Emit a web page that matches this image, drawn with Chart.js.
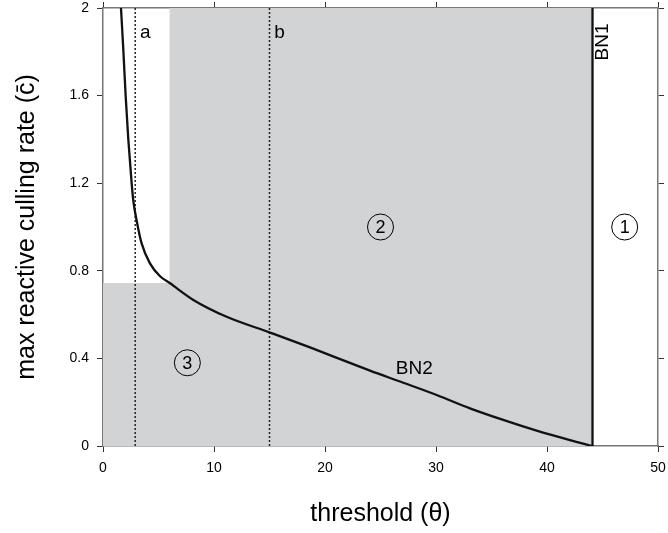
<!DOCTYPE html>
<html>
<head>
<meta charset="utf-8">
<script src="https://cdn.jsdelivr.net/npm/chart.js@4/dist/chart.umd.min.js"></script>
<style>
  html, body { margin: 0; padding: 0; background: #fff; }
  #wrap { width: 668px; height: 533px; position: relative; }
</style>
</head>
<body>
<div id="wrap"><canvas id="regionChart"></canvas></div>
<script>
// boundary BN2 (threshold vs max reactive culling rate)
const thetaBN2 = [1.62, 1.83, 2.04, 2.28, 2.58, 2.73, 3.03, 3.48, 4.23, 5.14, 6.04, 8.14, 11.14, 15.04, 18.65, 21.95, 24.05, 27.05, 30.06, 33.06, 36.06, 39.07, 42.07, 44.1];
const rateBN2 = [2.0, 1.81, 1.6, 1.4, 1.2, 1.12, 1.03, 0.925, 0.834, 0.775, 0.743, 0.667, 0.59, 0.518, 0.45, 0.385, 0.344, 0.289, 0.233, 0.172, 0.119, 0.07, 0.027, 0];

// boundary BN1 (vertical)
const thetaBN1 = [44.1, 44.1];
const rateBN1 = [0, 2];

// shaded region (regions 2 and 3)
const shadeTheta = [0, 6, 6, 44.1];
const shadeRate = [0.744, 0.744, 2, 2];

// reference thresholds a and b
const markNames = ['a', 'b'];
const markTheta = [2.9, 15];

// region markers
const regionNames = ['1', '2', '3'];
const regionTheta = [47, 25, 7.6];
const regionRate = [1.0, 1.0, 0.38];

// text labels
const labelText = ['a', 'b', 'BN2'];
const labelTheta = [3.8, 15.9, 28.05];
const labelRate = [1.886, 1.886, 0.352];
const bn1Label = { text: 'BN1', theta: 45.05, rate: 1.845 };

const xTicks = [0, 10, 20, 30, 40, 50];
const yTicks = [0, 0.4, 0.8, 1.2, 1.6, 2];

const pts = (xs, ys) => xs.map((x, i) => ({ x: x, y: ys[i] }));

Chart.defaults.font.family = '"Liberation Sans", Arial, sans-serif';
Chart.defaults.color = '#000';

const ctx = document.getElementById('regionChart').getContext('2d');

const datasets = [
    {
        data: pts(thetaBN2, rateBN2),
        borderColor: '#111',
        borderWidth: 2.3,
        pointRadius: 0,
        cubicInterpolationMode: 'monotone',
        order: 1
    },
    {
        data: pts(thetaBN1, rateBN1),
        borderColor: '#111',
        borderWidth: 2.3,
        pointRadius: 0,
        order: 1
    },
    {
        data: pts(regionTheta, regionRate),
        showLine: false,
        pointStyle: 'circle',
        pointRadius: 13,
        pointBorderWidth: 1,
        pointBorderColor: '#000',
        pointBackgroundColor: 'rgba(0,0,0,0)',
        order: 2
    },
    {
        data: pts(shadeTheta, shadeRate),
        borderWidth: 0,
        borderColor: 'rgba(0,0,0,0)',
        backgroundColor: '#d1d3d4',
        fill: 'origin',
        pointRadius: 0,
        order: 10
    }
];

markTheta.forEach(t => {
    datasets.push({
        data: pts([t, t], [0, 2]),
        borderColor: '#222',
        borderWidth: 1.5,
        borderDash: [2, 2],
        pointRadius: 0,
        order: 3
    });
});

const textPlugin = {
    id: 'textLabels',
    afterDatasetsDraw(chart) {
        const c = chart.ctx;
        const xs = chart.scales.x, ys = chart.scales.y;
        c.save();
        c.fillStyle = '#000';
        c.textAlign = 'center';
        c.textBaseline = 'middle';
        c.font = '18px "Liberation Sans", Arial, sans-serif';
        regionNames.forEach((n, i) => {
            c.fillText(n, xs.getPixelForValue(regionTheta[i]), ys.getPixelForValue(regionRate[i]) + 1);
        });
        c.font = '19px "Liberation Sans", Arial, sans-serif';
        labelText.forEach((t, i) => {
            c.fillText(t, xs.getPixelForValue(labelTheta[i]), ys.getPixelForValue(labelRate[i]));
        });
        c.translate(xs.getPixelForValue(bn1Label.theta), ys.getPixelForValue(bn1Label.rate));
        c.rotate(-Math.PI / 2);
        c.fillText(bn1Label.text, 0, 0);
        c.restore();
    }
};

const axisBorder = { color: '#777', width: 1.5 };
const tickGrid = { drawOnChartArea: false, tickLength: 6, color: '#333', lineWidth: 1 };
const fmt = v => String(Math.round(v * 10) / 10);

// fixed box sizes so the plot area matches the original frame
function fixBox(size, key) {
    return s => {
        s[key] = size;
        s.paddingLeft = 0;
        s.paddingRight = 0;
        s.paddingTop = 0;
        s.paddingBottom = 0;
    };
}

new Chart(ctx, {
    type: 'line',
    data: { datasets: datasets },
    options: {
        responsive: true,
        maintainAspectRatio: false,
        animation: false,
        layout: { padding: 0, autoPadding: false },
        plugins: {
            legend: { display: false },
            tooltip: { enabled: false }
        },
        scales: {
            x: {
                type: 'linear',
                position: 'bottom',
                min: 0,
                max: 50,
                afterBuildTicks: s => { s.ticks = xTicks.map(v => ({ value: v })); },
                ticks: { font: { size: 14 }, padding: 8, maxRotation: 0, callback: fmt },
                grid: tickGrid,
                border: axisBorder,
                title: {
                    display: true,
                    text: 'threshold (θ)',
                    font: { size: 25 },
                    padding: { top: 0, bottom: 4 }
                },
                afterFit: fixBox(87, 'height')
            },
            x2: {
                type: 'linear',
                position: 'top',
                min: 0,
                max: 50,
                afterBuildTicks: s => { s.ticks = xTicks.map(v => ({ value: v })); },
                ticks: { display: false },
                grid: tickGrid,
                border: axisBorder,
                afterFit: fixBox(8, 'height')
            },
            y: {
                type: 'linear',
                position: 'left',
                min: 0,
                max: 2,
                afterBuildTicks: s => { s.ticks = yTicks.map(v => ({ value: v })); },
                ticks: { font: { size: 14 }, padding: 8, callback: fmt },
                grid: tickGrid,
                border: axisBorder,
                title: {
                    display: true,
                    text: 'max reactive culling rate (c\u0304)',
                    font: { size: 25 },
                    padding: { top: 12, bottom: 0 }
                },
                afterFit: fixBox(103, 'width')
            },
            y2: {
                type: 'linear',
                position: 'right',
                min: 0,
                max: 2,
                afterBuildTicks: s => { s.ticks = yTicks.map(v => ({ value: v })); },
                ticks: { display: false },
                grid: tickGrid,
                border: axisBorder,
                afterFit: fixBox(10, 'width')
            }
        }
    },
    plugins: [textPlugin]
});
</script>
</body>
</html>
